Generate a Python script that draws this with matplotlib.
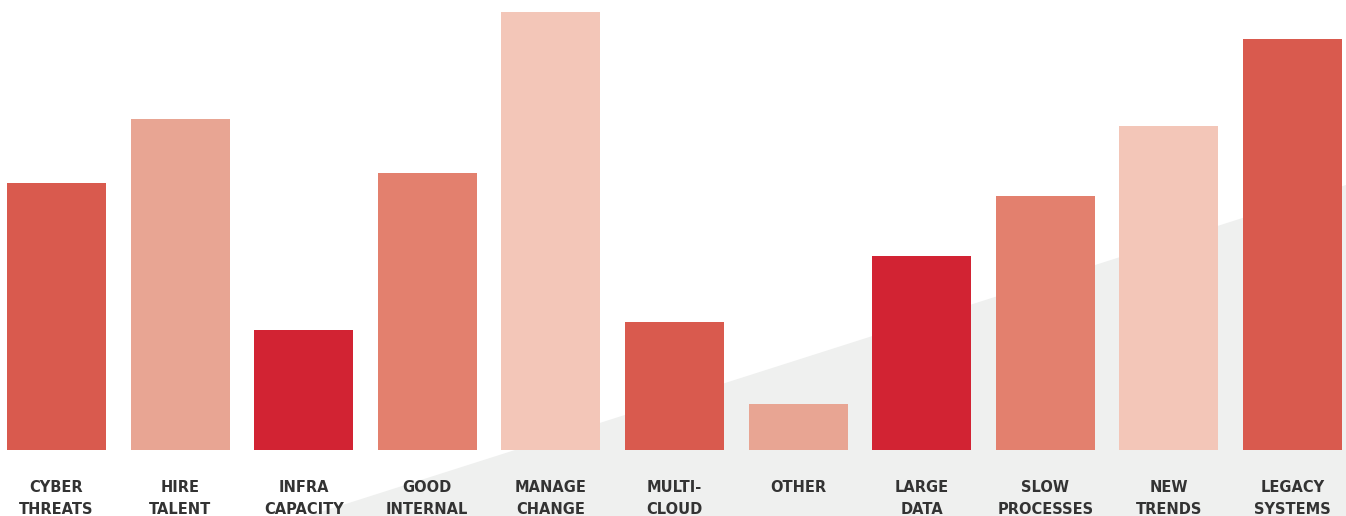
import matplotlib.pyplot as plt
from matplotlib.patches import Polygon

# challenge categories, left to right
labels = ['CYBER\nTHREATS', 'HIRE\nTALENT', 'INFRA\nCAPACITY', 'GOOD\nINTERNAL',
          'MANAGE\nCHANGE', 'MULTI-\nCLOUD', 'OTHER', 'LARGE\nDATA',
          'SLOW\nPROCESSES', 'NEW\nTRENDS', 'LEGACY\nSYSTEMS']
values = [267, 331, 120, 277, 438, 128, 46, 194, 254, 324, 411]
colors = ['#D95A4E', '#E8A593', '#D22333', '#E3806E', '#F3C6B8', '#D95A4E',
          '#E8A593', '#D22333', '#E3806E', '#F3C6B8', '#D95A4E']


def main():
	fig = plt.figure(figsize=(13.46, 5.16), dpi=100)
	ax = fig.add_axes([0, 0, 1, 1])

	# light grey wedge rising to the right behind the bars
	wedge = Polygon([(308 / 1346, 0), (1, 331 / 516), (1, 0)], closed=True,
	                transform=ax.transAxes, facecolor='#EFF0EF', edgecolor='none', zorder=0)
	ax.add_patch(wedge)

	x = range(len(values))
	ax.bar(x, values, width=0.8, color=colors, zorder=2)

	for i, lab in enumerate(labels):
		ax.text(i, -30, lab, ha='center', va='top', fontsize=10.5,
		        fontweight='bold', color='#333333', linespacing=1.55,
		        family=['DejaVu Sans'], zorder=3)

	ax.set_xlim(-56.5 / 123.6, (1346 - 56.5) / 123.6)
	ax.set_ylim(-66, 450)
	ax.axis('off')

	fig.savefig('out.png', dpi=100)


if __name__ == '__main__':
	main()
